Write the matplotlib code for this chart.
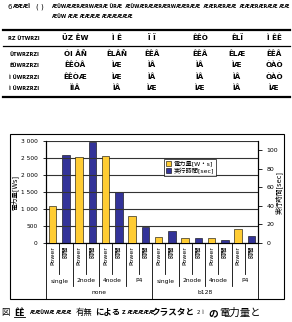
import matplotlib
matplotlib.use("Agg")
import matplotlib.pyplot as plt
from matplotlib.lines import Line2D
from matplotlib.patches import Rectangle, Patch

plt.rcParams['font.family'] = ['DejaVu Sans', 'Noto Sans CJK JP']

# ---- data ----
groups = ["none", "b128"]
subgroups = ["single", "2node", "4node", "P4"]
bar_labels = ["Power", "時間"]
power_ws = [1100, 2530, 2570, 800, 170, 140, 140, 400]      # 電力量 [W・s] (left axis)
time_sec = [95, 109, 55, 17.5, 12.7, 5.6, 3.0, 7.3]          # 実行時間 [sec] (right axis)
left_ticks = [0, 500, 1000, 1500, 2000, 2500, 3000]
left_ticklabels = ["0", "500", "1 000", "1 500", "2 000", "2 500", "3 000"]
right_ticks = [0, 20, 40, 60, 80, 100]
legend_labels = ["電力量[W・s]", "実行時間[sec]"]

table_rows = [
    ["RZ ÜTWRZI", "ÜZ ÊW", "Ì Ê", "Ï Ï", "ÊÊÒ", "ÊLÏ", "Ì ÊÊ"],
    ["ÜTWRZRZI", "ÓI ÂÑ", "ÊLÂÑ", "ÊÊÂ", "ÊÊÂ", "ÊLÆ", "ÊÊÂ"],
    ["ÊÜWRZRZI", "ÊÊÒÂ", "ÌÆ", "ÌÂ", "ÌÂ", "ÌÆ", "ÒÀÒ"],
    ["Ì ÜWRZRZI", "ÊÊÒÆ", "ÌÆ", "ÌÂ", "ÌÂ", "ÌÂ", "ÒÀÒ"],
    ["Ì ÜWRZRZI", "ÌÌÂ", "ÌÂ", "ÌÆ", "ÌÆ", "ÌÂ", "ÌÆ"],
]

W, H = 292, 322
fig = plt.figure(figsize=(W / 100, H / 100), dpi=100)

def fx(x):
    return x / W

def fy(y):
    return 1 - y / H

# ---- top caption (table title) ----
fig.text(fx(7), fy(7), "6", fontsize=5, va='center', ha='left')
fig.text(fx(13), fy(7), "ÆÆÆÏ", fontsize=3.6, weight='bold', va='center', ha='left')
fig.text(fx(36), fy(7), "( )", fontsize=5, va='center', ha='left')
fig.text(fx(52), fy(7), "ÆÜWÆÆRÆRWÆRÆ ÜRÆ  ÆÜWÆRÆÆRÆRWÆÆRÆÆ  ÆÆRÆRÆÆ  ÆÆÆRÆRÆÆ ÆÆ",
         fontsize=3.4, weight='bold', va='center', ha='left')
fig.text(fx(52), fy(17), "ÆÜW ÆÆ ÆÆÆÆ ÆÆÆÆÆÆ", fontsize=3.4,
         weight='bold', va='center', ha='left')

# ---- table ----
col_x = [24, 75, 117, 152, 200, 237, 274]
row_y = [38, 54, 65, 77, 88]
for r, row in enumerate(table_rows):
    for c, txt in enumerate(row):
        fig.text(fx(col_x[c]), fy(row_y[r]), txt, fontsize=5.2 if c else 3.6,
                 weight='bold', ha='center', va='center')
for y, lw in [(30, 1.6), (46, 0.9), (97, 1.6)]:
    fig.add_artist(Line2D([fx(3), fx(290)], [fy(y), fy(y)], color='black', lw=lw))

# ---- chart outer border ----
fig.add_artist(Rectangle((fx(10), fy(299)), fx(284) - fx(10), fy(134) - fy(299),
                         fill=False, edgecolor='black', lw=0.8))

# ---- plot area ----
px_l, px_r, px_t, px_b = 46, 258, 141, 243
ax = fig.add_axes([fx(px_l), fy(px_b), fx(px_r) - fx(px_l), fy(px_t) - fy(px_b)])
ax2 = ax.twinx()

n = len(power_ws)
xs_power = [2 * i for i in range(n)]
xs_time = [2 * i + 1 for i in range(n)]
yellow = '#FFCC33'
navy = '#333399'
ax.bar(xs_power, power_ws, width=0.55, color=yellow, edgecolor='black', lw=0.4, zorder=3)
ax2.bar(xs_time, time_sec, width=0.55, color=navy, edgecolor='black', lw=0.4, zorder=3)

ax.set_xlim(-0.5, 2 * n - 0.5)
ax.set_ylim(0, 3000)
ax2.set_ylim(0, 110)
ax.set_yticks(left_ticks)
ax.set_yticklabels(left_ticklabels)
ax2.set_yticks(right_ticks)
ax.yaxis.grid(True, color='#333333', lw=0.8, zorder=0)
ax.set_axisbelow(True)
ax.tick_params(axis='y', labelsize=4.2, length=2, width=0.6, pad=4)
ax2.tick_params(axis='y', labelsize=4.5, length=3, width=0.6, pad=3)
ax.set_xticks([])
for a in (ax, ax2):
    a.spines['top'].set_visible(False)
    for s in ('left', 'right', 'bottom'):
        a.spines[s].set_linewidth(0.8)

fig.text(fx(15), fy(192), "電力量[Ws]", rotation=90, fontsize=4.8, ha='center', va='center')
fig.text(fx(279), fy(193), "実行時間[sec]", rotation=90, fontsize=4.8, ha='center', va='center')

# category labels (multi-level)
tr = ax.get_xaxis_transform()
def ay(ypix):
    return (px_b - ypix) / (px_b - px_t)

for i in range(2 * n):
    ax.text(i, ay(246), bar_labels[i % 2], rotation=90, fontsize=4.5,
            ha='center', va='top', transform=tr, clip_on=False)
for g in range(len(groups)):
    for s in range(len(subgroups)):
        center = g * 8 + s * 2 + 0.5
        ax.text(center, ay(281), subgroups[s], fontsize=4.3, ha='center', va='center',
                transform=tr, clip_on=False)
    ax.text(g * 8 + 3.5, ay(293), groups[g], fontsize=4.3, ha='center', va='center',
            transform=tr, clip_on=False)

for k in range(2 * n + 1):
    xb = k - 0.5
    if k % 8 == 0:
        ybot = 299
    elif k % 2 == 0:
        ybot = 286
    else:
        ybot = 274
    ax.plot([xb, xb], [0, ay(ybot)], color='black', lw=0.6, transform=tr, clip_on=False)

# legend
handles = [Patch(facecolor=yellow, edgecolor='black', lw=0.4),
           Patch(facecolor=navy, edgecolor='black', lw=0.4)]
leg = ax.legend(handles, legend_labels, fontsize=4.5, loc='upper left',
                bbox_to_anchor=((164 - px_l) / (px_r - px_l), ay(159)),
                frameon=True, fancybox=False, edgecolor='black', handlelength=0.8,
                handleheight=0.8, handletextpad=0.4, borderpad=0.3, labelspacing=0.2,
                borderaxespad=0)
leg.get_frame().set_linewidth(0.6)
leg.set_zorder(5)
ax.set_zorder(ax2.get_zorder() + 1)
ax.patch.set_visible(False)

# figure caption
cy = fy(313)
fig.text(fx(1), cy, "図", fontsize=6, ha='left', va='center')
fig.text(fx(14), cy, "ÊÊ", fontsize=5.5, weight='bold', ha='left', va='center')
fig.add_artist(Line2D([fx(14), fx(25)], [fy(317), fy(317)], color='black', lw=0.6))
fig.text(fx(30), cy, "ÆÆÜWÆ ÆÆÆ", fontsize=3.4, weight='bold', ha='left', va='center')
fig.text(fx(76), cy, "有無", fontsize=6, ha='left', va='center')
fig.text(fx(95), cy, "による", fontsize=6, weight='bold', ha='left', va='center')
fig.text(fx(122), cy, "Ζ ÆÆÆÆÆ", fontsize=3.6, weight='bold', ha='left', va='center')
fig.text(fx(151), cy, "クラスタと", fontsize=6.2, weight='bold', ha='left', va='center')
fig.text(fx(197), cy, "2 Ì", fontsize=4, ha='left', va='center')
fig.text(fx(208), cy, "の", fontsize=7, weight='bold', ha='left', va='center')
fig.text(fx(219), cy, "電力量と", fontsize=7.5, ha='left', va='center')

fig.savefig("out.png", dpi=100)
